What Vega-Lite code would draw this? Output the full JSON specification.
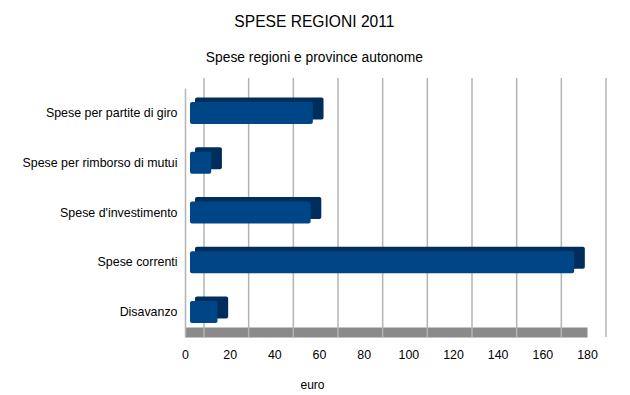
{
  "$schema": "https://vega.github.io/schema/vega-lite/v6.json",
  "width": 402,
  "height": 249,
  "autosize": {"type": "none"},
  "padding": {"left": 185, "top": 88, "right": 43, "bottom": 58},
  "background": "white",
  "title": {
    "text": "SPESE REGIONI 2011",
    "subtitle": "Spese regioni e province autonome",
    "anchor": "middle",
    "frame": "bounds",
    "font": "Liberation Sans",
    "fontSize": 15.6,
    "fontWeight": "normal",
    "color": "black",
    "subtitleFont": "Liberation Sans",
    "subtitleFontSize": 13.8,
    "subtitleColor": "black",
    "subtitlePadding": 21,
    "offset": 12
  },
  "config": {
    "view": {"stroke": null},
    "font": "Liberation Sans"
  },
  "datasets": {
    "spese": [
      {"categoria": "Spese per partite di giro", "euro": 55},
      {"categoria": "Spese per rimborso di mutui", "euro": 9.5},
      {"categoria": "Spese d'investimento", "euro": 54},
      {"categoria": "Spese correnti", "euro": 172},
      {"categoria": "Disavanzo", "euro": 12.3}
    ],
    "griglia": [
      {"t": 0}, {"t": 20}, {"t": 40}, {"t": 60}, {"t": 80},
      {"t": 100}, {"t": 120}, {"t": 140}, {"t": 160}, {"t": 180}
    ]
  },
  "layer": [
    {
      "data": {"name": "griglia"},
      "mark": {"type": "rule", "color": "#b3b3b3", "strokeWidth": 1.5, "xOffset": 19, "yOffset": -10},
      "encoding": {
        "x": {"field": "t", "type": "quantitative", "scale": {"domain": [0, 180], "nice": false, "zero": true}}
      }
    },
    {
      "data": {"name": "spese"},
      "mark": {"type": "bar", "color": "#002e5c", "size": 22, "xOffset": 15.7, "x2Offset": 10, "yOffset": -4.5, "cornerRadius": 2},
      "encoding": {
        "y": {"field": "categoria", "type": "nominal", "sort": null},
        "x": {"field": "euro", "type": "quantitative"},
        "x2": {"datum": 0}
      }
    },
    {
      "data": {"name": "spese"},
      "mark": {"type": "bar", "color": "#004586", "size": 22, "xOffset": 5, "x2Offset": 5, "cornerRadius": 2},
      "encoding": {
        "y": {
          "field": "categoria", "type": "nominal", "sort": null,
          "axis": {
            "title": null,
            "domainColor": "#b3b3b3",
            "domainWidth": 1.5,
            "ticks": false,
            "labelPadding": 8,
            "labelFontSize": 12.4,
            "labelColor": "black",
            "labelFont": "Liberation Sans"
          }
        },
        "x2": {"datum": 0},
        "x": {
          "field": "euro", "type": "quantitative",
          "scale": {"domain": [0, 180], "nice": false},
          "axis": {
            "title": "euro",
            "titleFontSize": 12,
            "titleFontWeight": "normal",
            "titleColor": "black",
            "titleFont": "Liberation Sans",
            "titleX": 127,
            "titleY": 47,
            "values": [0, 20, 40, 60, 80, 100, 120, 140, 160, 180],
            "grid": false,
            "ticks": false,
            "offset": -5,
            "domainColor": "#8a8a8a",
            "domainWidth": 10,
            "labelPadding": 16,
            "labelFontSize": 12.4,
            "labelColor": "black",
            "labelFont": "Liberation Sans",
            "labelFlush": false
          }
        }
      }
    }
  ]
}
